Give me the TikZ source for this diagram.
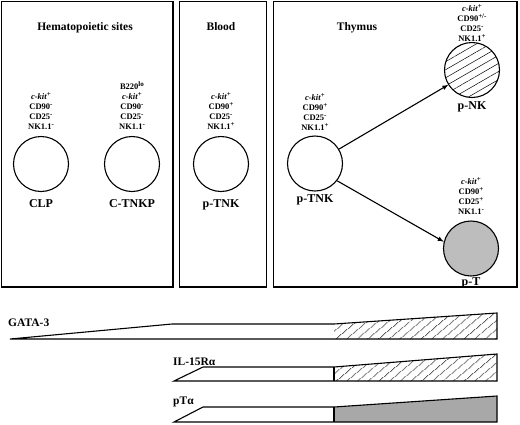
\documentclass[tikz,border=0pt]{standalone}
\usepackage{fontspec}
\setmainfont{Liberation Serif}
\usetikzlibrary{arrows,patterns.meta}
\definecolor{cellgray}{gray}{0.74}
\definecolor{bargray}{gray}{0.66}
\newcommand{\supr}[1]{\raisebox{0.75ex}{\fontsize{7}{7}\selectfont #1}}
\newcommand{\ckit}{\textit{c-kit}}

\begin{document}
\begin{tikzpicture}[x=1pt,y=-1pt,
  panel/.style={draw,line width=1.1pt},
  cell/.style={circle,draw,line width=1.1pt,minimum size=55pt,inner sep=0pt},
  markers/.style={anchor=south,align=center,inner sep=0pt,font=\bfseries\fontsize{8.5}{10}\selectfont},
  cellname/.style={anchor=base,inner sep=0pt,font=\bfseries\fontsize{12}{14}\selectfont},
  site/.style={anchor=base,inner sep=0pt,font=\bfseries\fontsize{11.5}{14}\selectfont},
  gene/.style={anchor=base west,inner sep=0pt,font=\bfseries\fontsize{11.5}{14}\selectfont},
  bar/.style={draw,line width=1.1pt},
  hatch/.style={pattern={Lines[angle=40,distance=6.5pt,line width=0.5pt]}}]
\useasboundingbox (0,0) rectangle (520,424);

% panels
\draw[panel] (1.5,1.5) rectangle (173,287);
\draw[panel] (179.5,1.5) rectangle (266.5,287);
\draw[panel] (273.5,1.5) rectangle (517,287);
\node[site] (hemat)  at (85,30.5)  {Hematopoietic sites};
\node[site] (blood)  at (221,30.5) {Blood};
\node[site] (thymus) at (357,30)   {Thymus};

% cells
\node[cell] (clp)   at (41,164)    {};
\node[cell] (ctnkp) at (132,164)   {};
\node[cell] (ptnkb) at (221,164)   {};
\node[cell] (ptnk)  at (315,163.5) {};
\node[cell,pattern={Lines[angle=30,distance=7pt,line width=0.5pt]}] (pnk) at (472,70) {};
\node[cell,fill=cellgray] (pt) at (471,248.5) {};

\node[markers] (clpm)   at (41,130)    {\ckit\supr{+}\\CD90\supr{-}\\CD25\supr{-}\\NK1.1\supr{-}};
\node[markers] (ctnkpm) at (132,130)   {B220\supr{lo}\\\ckit\supr{+}\\CD90\supr{-}\\CD25\supr{-}\\NK1.1\supr{-}};
\node[markers] (ptnkbm) at (221,130)   {\ckit\supr{+}\\CD90\supr{+}\\CD25\supr{-}\\NK1.1\supr{+}};
\node[markers] (ptnkm)  at (315,131)   {\ckit\supr{+}\\CD90\supr{+}\\CD25\supr{-}\\NK1.1\supr{+}};
\node[markers] (pnkm)   at (472,42)    {\ckit\supr{+}\\CD90\supr{+/-}\\CD25\supr{-}\\NK1.1\supr{+}};
\node[markers] (ptm)    at (471,215)   {\ckit\supr{+}\\CD90\supr{+}\\CD25\supr{+}\\NK1.1\supr{-}};

\node[cellname] (clpl)   at (41,207.5)  {CLP};
\node[cellname] (ctnkpl) at (132,207.5) {C-TNKP};
\node[cellname] (ptnkbl) at (221,207.5) {p-TNK};
\node[cellname] (ptnkl)  at (315,202.5) {p-TNK};
\node[cellname] (pnkl)   at (472,109)   {p-NK};
\node[cellname] (ptl)    at (471,285)   {p-T};

\draw[line width=1.1pt,-latex] (ptnk.31)  -- (pnk.212);
\draw[line width=1.1pt,-latex] (ptnk.-38) -- (pt.166);

% expression bars
\node[gene] (gata) at (8,326)   {GATA-3};
\node[gene] (il15) at (173,365) {IL-15Rα};
\node[gene] (pta)  at (173,404) {pTα};

\fill[hatch] (334,324) -- (497,313) -- (497,339) -- (334,339) -- cycle;
\draw[bar] (10,339) -- (172,324) -- (334,324) -- (497,313) -- (497,339) -- cycle;

\fill[hatch] (334,367) -- (497,354) -- (497,381) -- (334,381) -- cycle;
\draw[bar] (174,381) -- (203,367) -- (334,367) -- (497,354) -- (497,381) -- cycle;
\draw[bar] (334,367) -- (334,381);

\fill[bargray] (334,407) -- (497,396) -- (497,422) -- (334,422) -- cycle;
\draw[bar] (174,422) -- (203,407) -- (334,407) -- (497,396) -- (497,422) -- cycle;
\draw[bar] (334,407) -- (334,422);
\end{tikzpicture}
\end{document}
